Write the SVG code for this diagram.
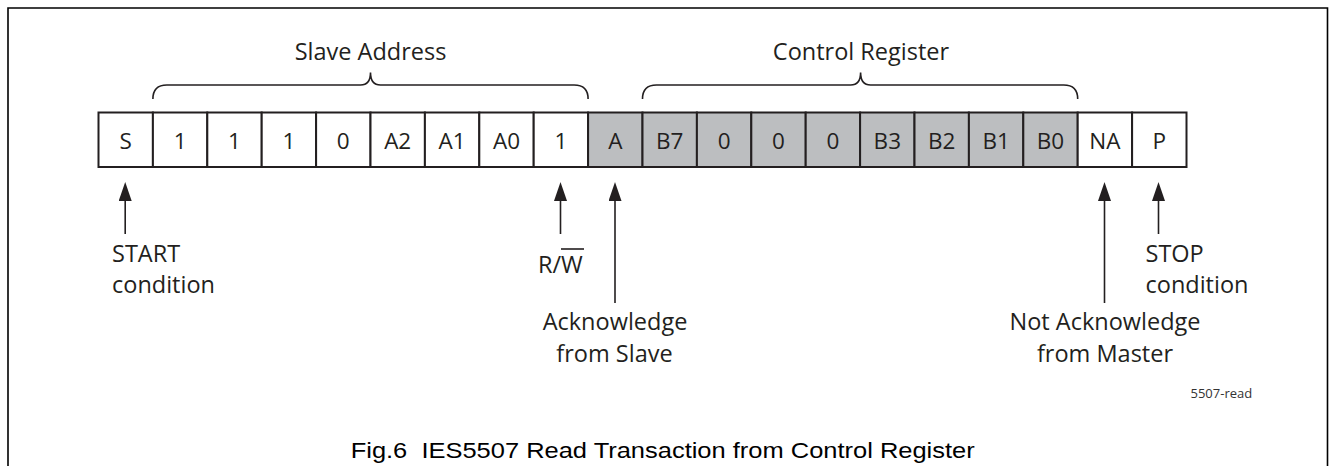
<svg xmlns="http://www.w3.org/2000/svg" width="1330" height="466" viewBox="0 0 1330 466">
  <style>
    .cell { fill: #ffffff; stroke: #231f20; stroke-width: 2; }
    .cell.ack { fill: #bcbec0; }
    .bit { font-family: "Open Sans", "Noto Sans", sans-serif; font-size: 22.5px; fill: #231f20; text-anchor: middle; }
    .lbl { font-family: "Open Sans", "Noto Sans", sans-serif; font-size: 23.5px; fill: #231f20; }
    .mid { text-anchor: middle; }
    .brace { fill: none; stroke: #231f20; stroke-width: 1.6; }
    .arrow { fill: none; stroke: #231f20; stroke-width: 1.6; marker-end: url(#head); }
    .frame { fill: none; stroke: #000000; stroke-width: 1.6; }
    .tag { font-family: "Open Sans", "Noto Sans", sans-serif; font-size: 13px; fill: #333333; }
    .caption { font-family: "Liberation Sans", Arial, sans-serif; font-size: 22px; fill: #000000; white-space: pre; }
  </style>
  <defs>
    <marker id="head" markerUnits="userSpaceOnUse" viewBox="0 0 19 13" markerWidth="19" markerHeight="13" refX="9" refY="6.5" orient="auto">
      <path d="M0,0 L19,6.5 L0,13 Z" fill="#231f20"/>
    </marker>
  </defs>

  <rect width="1330" height="466" fill="#ffffff"/>

  <!-- outer frame, open at the bottom -->
  <path class="frame" d="M8,466 V8 H1327.5 V466"/>

  <!-- bit fields of the read transaction -->
  <g id="cell-s"><rect class="cell" x="98.5" y="112.5" width="54.4" height="54.5"/><text class="bit" x="125.7" y="148.5">S</text></g>
  <g id="cell-a6"><rect class="cell" x="152.9" y="112.5" width="54.4" height="54.5"/><text class="bit" x="180.1" y="148.5">1</text></g>
  <g id="cell-a5"><rect class="cell" x="207.3" y="112.5" width="54.4" height="54.5"/><text class="bit" x="234.5" y="148.5">1</text></g>
  <g id="cell-a4"><rect class="cell" x="261.7" y="112.5" width="54.4" height="54.5"/><text class="bit" x="288.9" y="148.5">1</text></g>
  <g id="cell-a3"><rect class="cell" x="316.1" y="112.5" width="54.4" height="54.5"/><text class="bit" x="343.3" y="148.5">0</text></g>
  <g id="cell-a2"><rect class="cell" x="370.5" y="112.5" width="54.4" height="54.5"/><text class="bit" x="397.7" y="148.5">A2</text></g>
  <g id="cell-a1"><rect class="cell" x="424.9" y="112.5" width="54.4" height="54.5"/><text class="bit" x="452.1" y="148.5">A1</text></g>
  <g id="cell-a0"><rect class="cell" x="479.3" y="112.5" width="54.4" height="54.5"/><text class="bit" x="506.5" y="148.5">A0</text></g>
  <g id="cell-rw"><rect class="cell" x="533.7" y="112.5" width="54.4" height="54.5"/><text class="bit" x="560.9" y="148.5">1</text></g>
  <g id="cell-ack"><rect class="cell ack" x="588.1" y="112.5" width="54.4" height="54.5"/><text class="bit" x="615.3" y="148.5">A</text></g>
  <g id="cell-b7"><rect class="cell ack" x="642.5" y="112.5" width="54.4" height="54.5"/><text class="bit" x="669.7" y="148.5">B7</text></g>
  <g id="cell-b6"><rect class="cell ack" x="696.9" y="112.5" width="54.4" height="54.5"/><text class="bit" x="724.1" y="148.5">0</text></g>
  <g id="cell-b5"><rect class="cell ack" x="751.3" y="112.5" width="54.4" height="54.5"/><text class="bit" x="778.5" y="148.5">0</text></g>
  <g id="cell-b4"><rect class="cell ack" x="805.7" y="112.5" width="54.4" height="54.5"/><text class="bit" x="832.9" y="148.5">0</text></g>
  <g id="cell-b3"><rect class="cell ack" x="860.1" y="112.5" width="54.4" height="54.5"/><text class="bit" x="887.3" y="148.5">B3</text></g>
  <g id="cell-b2"><rect class="cell ack" x="914.5" y="112.5" width="54.4" height="54.5"/><text class="bit" x="941.7" y="148.5">B2</text></g>
  <g id="cell-b1"><rect class="cell ack" x="968.9" y="112.5" width="54.4" height="54.5"/><text class="bit" x="996.1" y="148.5">B1</text></g>
  <g id="cell-b0"><rect class="cell ack" x="1023.3" y="112.5" width="54.4" height="54.5"/><text class="bit" x="1050.5" y="148.5">B0</text></g>
  <g id="cell-na"><rect class="cell" x="1077.7" y="112.5" width="54.4" height="54.5"/><text class="bit" x="1104.9" y="148.5">NA</text></g>
  <g id="cell-p"><rect class="cell" x="1132.1" y="112.5" width="54.4" height="54.5"/><text class="bit" x="1159.3" y="148.5">P</text></g>

  <!-- group braces -->
  <g id="slave-address">
    <path class="brace" d="M152.9,99 C152.9,90 157.9,85 166.9,85 H360.5 C366.5,85 370.5,81 370.5,72.5 C370.5,81 374.5,85 380.5,85 H574.1 C583.1,85 588.1,90 588.1,99"/>
    <text class="lbl mid" x="370.5" y="59.5">Slave Address</text>
  </g>
  <g id="control-register">
    <path class="brace" d="M642.5,99 C642.5,90 647.5,85 656.5,85 H850.6 C856.6,85 860.6,81 860.6,72.5 C860.6,81 864.6,85 870.6,85 H1063.7 C1072.7,85 1077.7,90 1077.7,99"/>
    <text class="lbl mid" x="861" y="59.5">Control Register</text>
  </g>

  <!-- pointer arrows -->
  <g id="connectors">
    <line class="arrow" x1="125.2" y1="234" x2="125.2" y2="192"/>
    <line class="arrow" x1="560.5" y1="234" x2="560.5" y2="192"/>
    <line class="arrow" x1="615" y1="303" x2="615" y2="192"/>
    <line class="arrow" x1="1104.5" y1="303" x2="1104.5" y2="192"/>
    <line class="arrow" x1="1158.5" y1="234" x2="1158.5" y2="192"/>
  </g>

  <!-- annotations -->
  <g id="start-label">
    <text class="lbl" x="112" y="261.7">START</text>
    <text class="lbl" x="112" y="293.3">condition</text>
  </g>
  <g id="rw-label">
    <text class="lbl" x="538" y="273.3">R/W</text>
    <line x1="561" y1="249" x2="584" y2="249" stroke="#231f20" stroke-width="1.6"/>
  </g>
  <g id="ack-label">
    <text class="lbl mid" x="615" y="330">Acknowledge</text>
    <text class="lbl mid" x="614.5" y="361.7">from Slave</text>
  </g>
  <g id="nack-label">
    <text class="lbl mid" x="1105" y="330">Not Acknowledge</text>
    <text class="lbl mid" x="1105" y="362">from Master</text>
  </g>
  <g id="stop-label">
    <text class="lbl" x="1145.5" y="261.7">STOP</text>
    <text class="lbl" x="1145.5" y="293.3">condition</text>
  </g>

  <text class="tag" x="1190.5" y="398">5507-read</text>
  <text class="caption" x="350.7" y="458.3" textLength="624" lengthAdjust="spacingAndGlyphs">Fig.6  IES5507 Read Transaction from Control Register</text>
</svg>
